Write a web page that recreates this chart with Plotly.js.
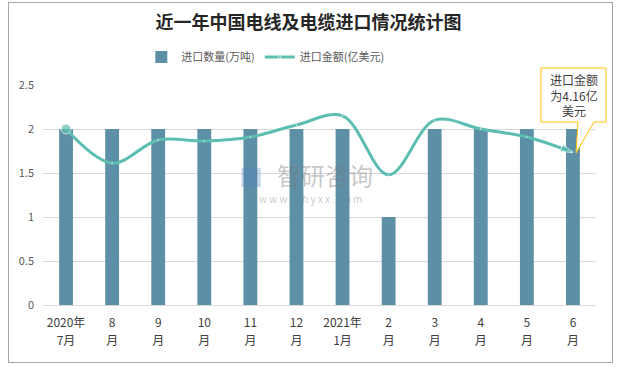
<!DOCTYPE html>
<html><head><meta charset="utf-8">
<script src="https://cdn.plot.ly/plotly-3.0.1.min.js"></script>
<style>body{margin:0;background:#fff}#wrap{position:relative;width:617px;height:367px}
#border{position:absolute;left:8px;top:2px;width:603px;height:359px;border:1px solid #a6a6a6;pointer-events:none}</style>
</head><body><div id="wrap"><div id="chart" style="width:617px;height:367px"></div><div id="border"></div></div>
<script>
const categories = ["2020年","8","9","10","11","12","2021年","2","3","4","5","6"];
const subLabels = ["7月","月","月","月","月","月","1月","月","月","月","月","月"];
const volume = [2,2,2,2,2,2,2,1,2,2,2,2];
const amount = [4.8,3.87,4.5,4.47,4.58,4.91,5.16,3.55,5.04,4.8,4.58,4.16];

const n = amount.length;
const symbols = amount.map((v,i)=> i===n-1 ? 'arrow' : 'circle');
const sizes = amount.map((v,i)=> i===0 ? 10 : (i===n-1 ? 13 : 1));
const angles = amount.map((v,i)=> i===n-1 ? 112 : 0);

const font = "'Microsoft YaHei','Noto Sans CJK SC',sans-serif";
const X = px => (px-43)/553, Y = py => (305-py)/220;
const callout = `M ${X(541)},${Y(68)} L ${X(606)},${Y(68)} L ${X(606)},${Y(122)} L ${X(594)},${Y(122)} L ${X(576)},${Y(153)} L ${X(578)},${Y(122)} L ${X(541)},${Y(122)} Z`;

const traces = [
 {type:'bar', x:categories, y:volume, name:'进口数量(万吨)', marker:{color:'#5D8FA7'}, width:0.3},
 {type:'scatter', mode:'lines+markers', x:categories, y:amount, xaxis:'x2', yaxis:'y2', name:'进口金额(亿美元)',
  line:{color:'#5CBDB1', width:3, shape:'spline', smoothing:1},
  marker:{color:'#5CBDB1', symbol:symbols, size:sizes, angle:angles}}
];
const layout = {
 width:617, height:367,
 margin:{l:43, r:21, t:85, b:62},
 paper_bgcolor:'#fff', plot_bgcolor:'#fff',
 font:{family:font, color:'#595959', size:12},
 title:{text:'<b>近一年中国电线及电缆进口情况统计图</b>', x:0.5, xref:'container', y:0.938, yref:'container', yanchor:'middle',
  font:{family:"'Noto Sans CJK SC',serif", size:18, color:'#262626'}},
 showlegend:true,
 legend:{orientation:'h', xref:'container', x:0.43, xanchor:'center', yref:'container', y:0.845, yanchor:'middle',
  font:{size:11, color:'#595959'}, traceorder:'normal'},
 bargap:0.7,
 xaxis:{type:'category', range:[-0.5,11.5], showgrid:false, showline:true, linecolor:'#d9d9d9', linewidth:1,
  ticks:'', tickfont:{size:12, color:'#404040'}, ticklabelstandoff:7},
 xaxis2:{type:'category', range:[-0.5,11.5], overlaying:'x', anchor:'y', side:'bottom', showgrid:false, showline:false,
  ticks:'', tickmode:'array', tickvals:categories, ticktext:subLabels, tickfont:{size:12, color:'#404040'}, ticklabelstandoff:27},
 yaxis:{range:[0,2.5], dtick:0.5, showgrid:true, gridcolor:'#d9d9d9', zeroline:false, ticks:'',
  tickfont:{size:11, color:'#595959'}, ticklabelstandoff:8},
 yaxis2:{range:[0,6], overlaying:'y', side:'right', visible:false},
 shapes:[
  {type:'path', xref:'paper', yref:'paper', path:callout, line:{color:'#FFC000', width:1}, fillcolor:'#ffffff', layer:'above'}
 ],
 annotations:[
  {x:X(573.5), y:Y(95), xref:'paper', yref:'paper', xanchor:'center', yanchor:'middle', text:'进口金额<br>为4.16亿<br>美元', showarrow:false,
   font:{size:12, color:'#404040'}, align:'center'},
  {x:X(325), y:Y(174), xref:'paper', yref:'paper', xanchor:'center', yanchor:'middle', text:'智研咨询', showarrow:false, font:{size:24, color:'rgba(120,120,120,0.42)'}},
  {x:X(251), y:Y(175), xref:'paper', yref:'paper', xanchor:'center', yanchor:'middle', text:'■', showarrow:false, font:{size:24, color:'rgba(80,130,190,0.32)'}},
  {x:X(310), y:Y(198), xref:'paper', yref:'paper', xanchor:'center', yanchor:'middle', text:'w w w . c h y x x . c o m', showarrow:false, font:{size:10, color:'rgba(120,120,120,0.42)'}}
 ]
};
Plotly.newPlot('chart', traces, layout, {displayModeBar:false, staticPlot:true});
</script></body></html>
